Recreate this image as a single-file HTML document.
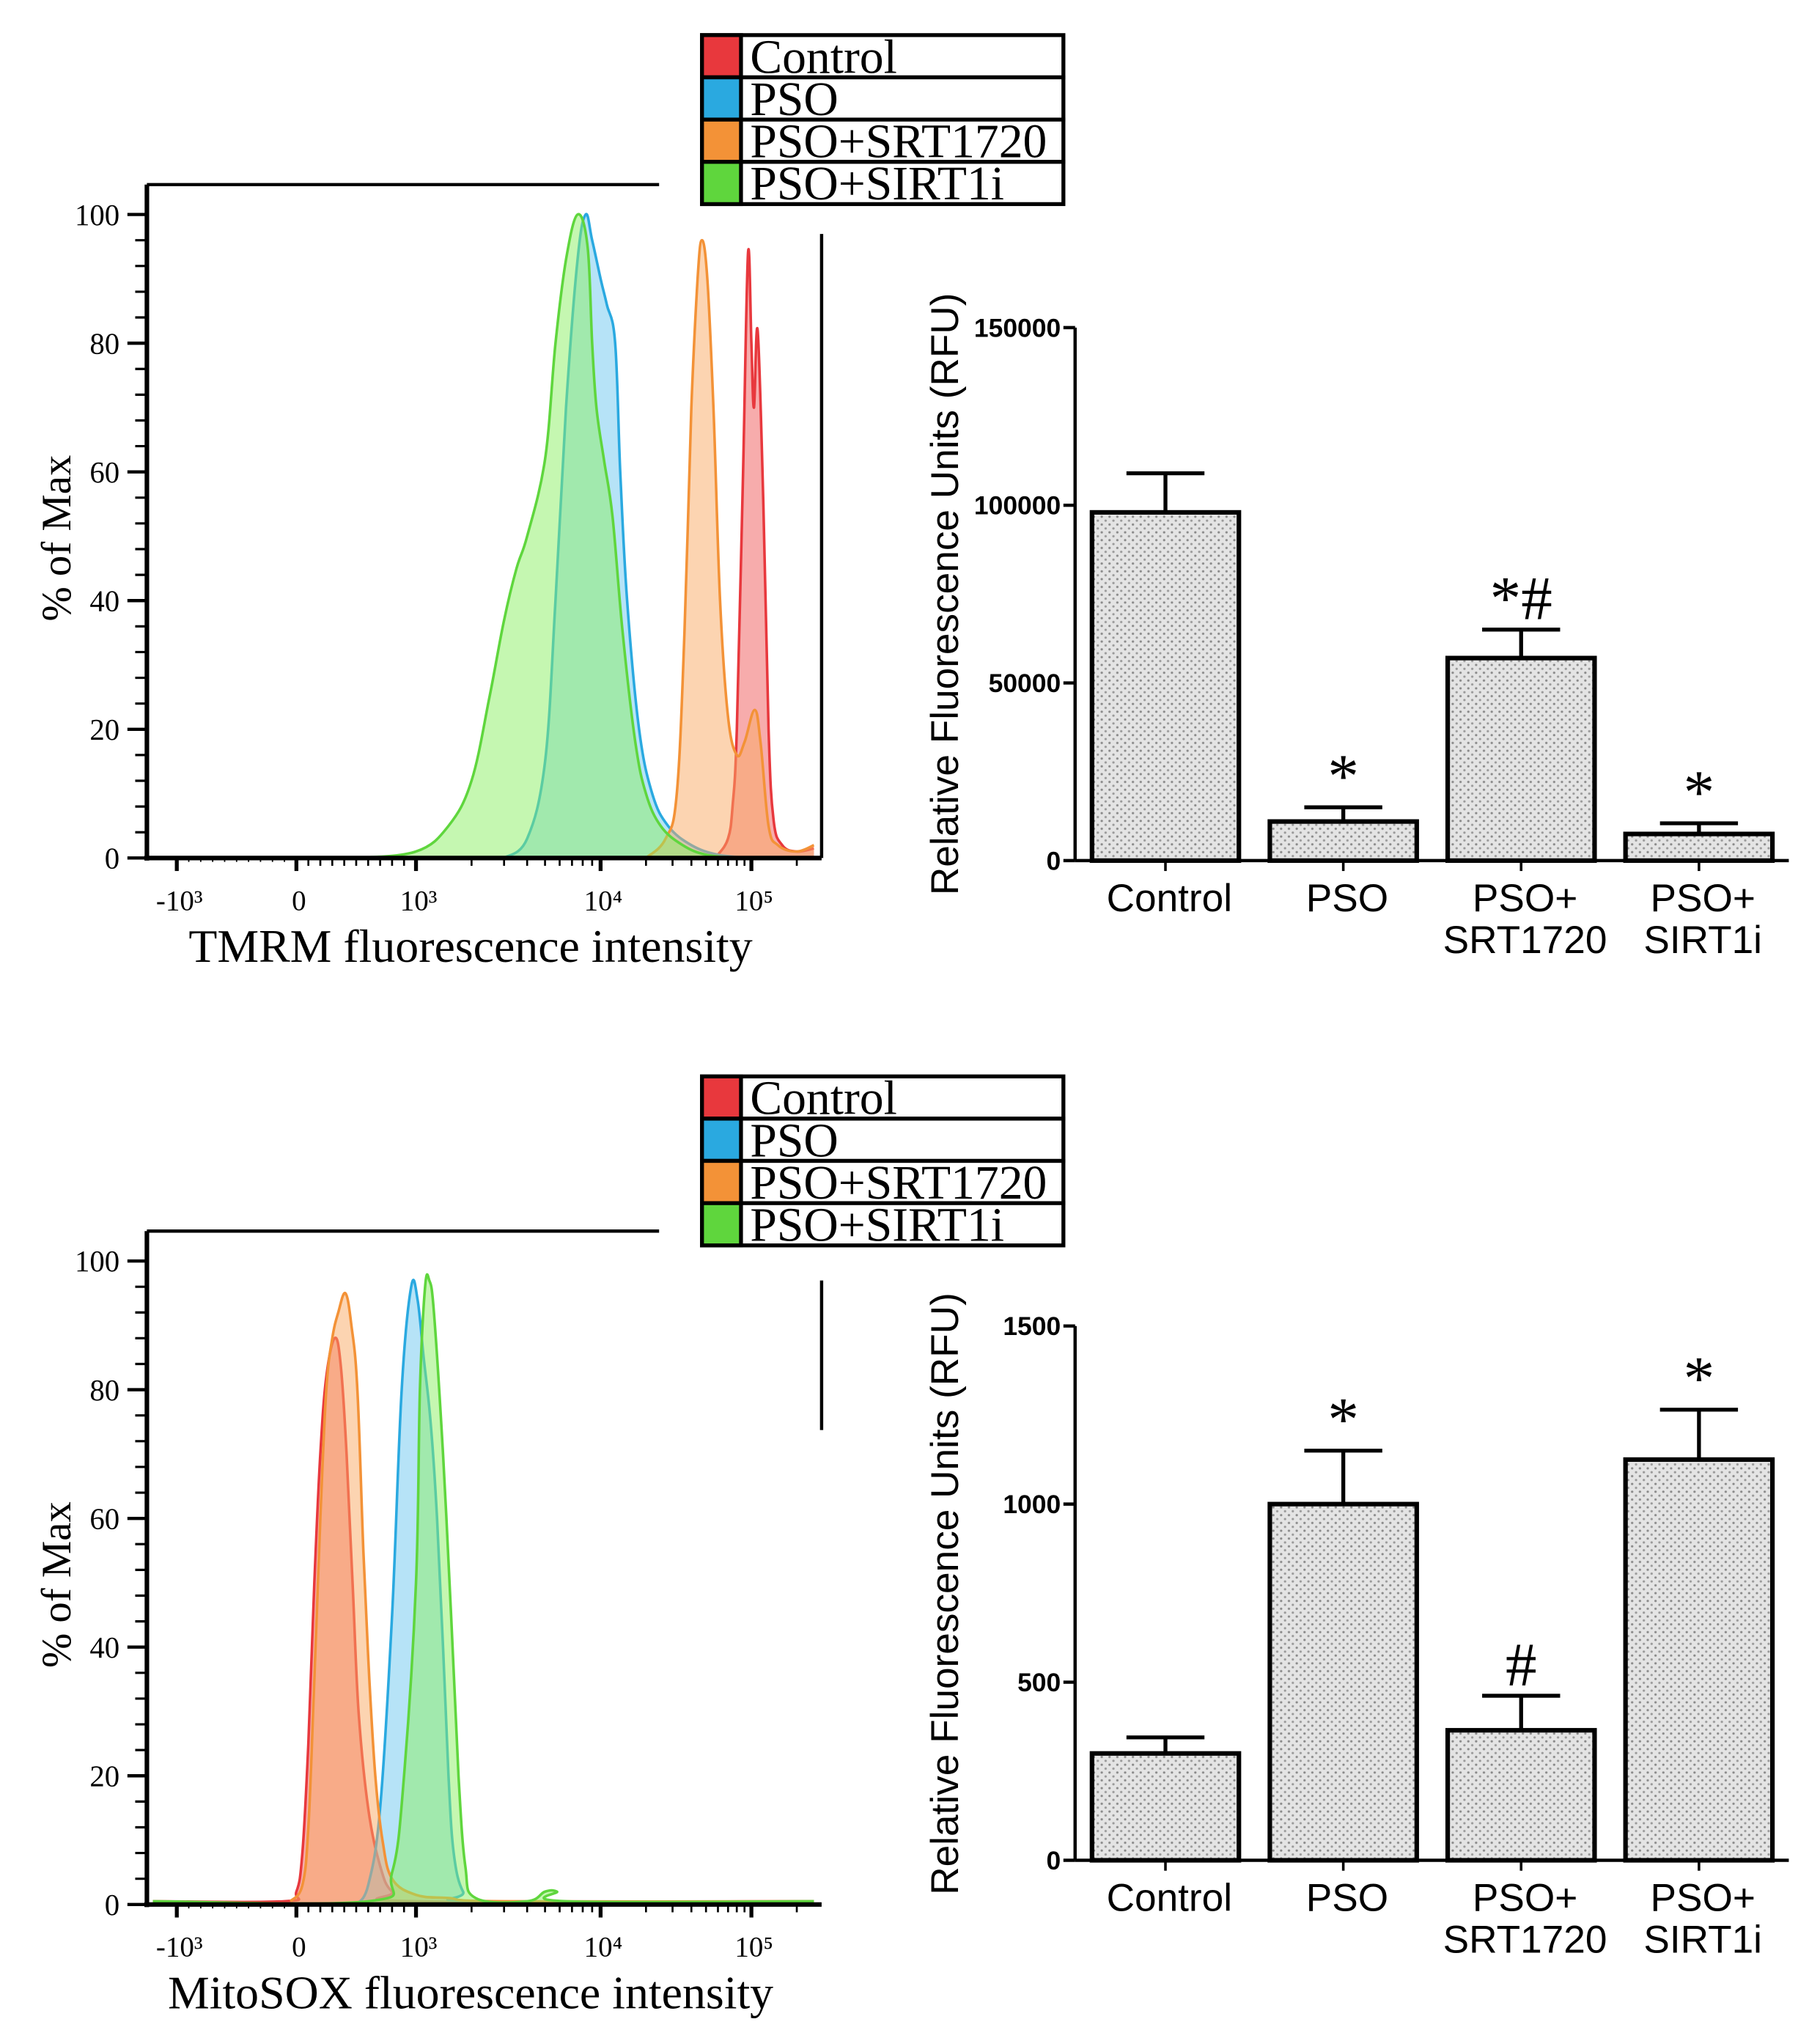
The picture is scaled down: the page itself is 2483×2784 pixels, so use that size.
<!DOCTYPE html>
<html><head><meta charset="utf-8">
<style>
html,body{margin:0;padding:0;background:#fff;}
svg{display:block;}
.serif{font-family:"Liberation Serif",serif;}
.sans{font-family:"Liberation Sans",sans-serif;}
</style></head>
<body>
<svg id="fig" width="2483" height="2784" viewBox="0 0 1400 1570" preserveAspectRatio="none" xmlns="http://www.w3.org/2000/svg">
<defs>
<pattern id="dots" width="6" height="6" patternUnits="userSpaceOnUse">
<rect width="6" height="6" fill="#e4e4e4"/>
<circle cx="1.5" cy="1.5" r="0.9" fill="#8a8a8a"/>
<circle cx="4.5" cy="4.5" r="0.9" fill="#9a9a9a"/>
</pattern>
</defs>
<g id="root"></g>
</svg>
<script>
// ---------- Data ----------
const seriesNames = ["Control","PSO","PSO+SRT1720","PSO+SIRT1i"];
const strokeColors = ["#e8383d","#2aa9e0","#f39237","#5fd63d"];
const fillColors = ["rgba(240,90,90,0.5)","rgba(110,200,240,0.5)","rgba(250,170,100,0.5)","rgba(140,240,100,0.5)"];

// TMRM histograms: [intensity, % of max]
const tmrmControl = [[60000,0.5],[70000,3],[75000,8],[80000,20],[88000,60],[95000,94],[100000,80],[104000,70],[110000,82],[120000,55],[130000,20],[140000,6],[160000,2],[200000,1],[260000,1.5]];
const tmrmPSO = [[3000,0],[4000,3],[5000,15],[5700,40],[6500,70],[7500,93],[8300,100],[9000,96],[10000,90],[11000,86],[12500,80],[13500,60],[15000,40],[18000,20],[22000,10],[28000,5],[40000,2],[60000,0.5],[100000,0]];
const tmrmSRT = [[20000,0],[27000,3],[32000,10],[36000,35],[40000,70],[44000,90],[47000,96],[51000,90],[56000,70],[62000,40],[70000,22],[80000,16],[90000,18],[105000,23],[115000,18],[130000,5],[150000,2],[200000,1],[260000,2]];
const tmrmSIRT = [[500,0],[1000,1],[1500,5],[2000,12],[2500,25],[3000,37],[3500,45],[4000,50],[5000,62],[5700,80],[6500,93],[7500,100],[8500,95],[9000,80],[9500,70],[10500,62],[12000,53],[14000,35],[17000,18],[20000,10],[25000,5],[35000,2],[50000,0.5],[80000,0]];

// MitoSOX histograms
const mitoControl = [[-1200,0.5],[-100,0.5],[0,2],[50,8],[100,25],[150,50],[200,70],[250,82],[320,88],[370,84],[420,70],[470,50],[520,30],[600,15],[700,6],[800,2],[1000,0.5],[260000,0.5]];
const mitoPSO = [[500,0],[600,3],[700,15],[800,45],[880,80],[960,96],[1020,94],[1100,85],[1200,75],[1300,60],[1400,40],[1500,20],[1600,8],[1800,2],[2200,0.5],[260000,0.5]];
const mitoSRT = [[-50,0.5],[50,3],[100,12],[150,35],[200,60],[250,80],[300,88],[350,92],[410,95],[460,90],[510,80],[560,55],[610,35],[660,20],[720,10],[800,4],[1000,1.5],[1500,1],[3000,0.5],[260000,0.5]];
const mitoSIRT = [[-1200,0.5],[600,0.5],[800,5],[900,20],[1000,50],[1050,80],[1120,96],[1180,97],[1250,92],[1400,70],[1550,45],[1700,20],[1850,6],[2100,1],[4000,0.5],[5000,2],[5800,2],[6500,0.5],[260000,0.5]];

const histXTicks = [-1000,0,1000,10000,100000];
const histXTickLabels = ["-10\u00b3","0","10\u00b3","10\u2074","10\u2075"];
const histYTicks = [0,20,40,60,80,100];

// Bar charts
const barCategories = ["Control","PSO","PSO+|SRT1720","PSO+|SIRT1i"];
const tmrmMeans = [98000,11000,57000,7500];
const tmrmErrors = [11000,4000,8000,3000];
const tmrmMarks = ["","*","*#","*"];
const tmrmYTicks = [0,50000,100000,150000];
const mitoMeans = [300,1000,365,1125];
const mitoErrors = [45,150,97,140];
const mitoMarks = ["","*","#","*"];
const mitoYTicks = [0,500,1000,1500];

// ---------- Helpers ----------
const NS = "http://www.w3.org/2000/svg";
const root = document.getElementById("root");
function mk(tag, attrs, parent, text){
  const e = document.createElementNS(NS, tag);
  for (const k in attrs) e.setAttribute(k, attrs[k]);
  if (text !== undefined) e.textContent = text;
  (parent || root).appendChild(e);
  return e;
}
// biexponential-like axis: linear in [-1000,1000], log above
function xPos(v){
  if (v <= 1000) return 228 + v * 0.092;
  const l = Math.log10(v);
  if (l <= 4) return 320 + (l - 3) * 142;
  return 462 + (l - 4) * 116;
}
function smoothPath(pts){
  let d = "M" + pts[0][0].toFixed(1) + "," + pts[0][1].toFixed(1);
  for (let i = 0; i < pts.length - 1; i++) {
    const p0 = pts[Math.max(0,i-1)], p1 = pts[i], p2 = pts[i+1], p3 = pts[Math.min(pts.length-1,i+2)];
    const t = 0.18;
    const c1x = p1[0] + (p2[0]-p0[0])*t, c1y = p1[1] + (p2[1]-p0[1])*t;
    const c2x = p2[0] - (p3[0]-p1[0])*t, c2y = p2[1] - (p3[1]-p1[1])*t;
    d += " C" + c1x.toFixed(1) + "," + c1y.toFixed(1) + " " + c2x.toFixed(1) + "," + c2y.toFixed(1) + " " + p2[0].toFixed(1) + "," + p2[1].toFixed(1);
  }
  return d;
}

function histogram(top, datasets, title, legendTop, name){
  const g = mk("g", {});
  
  
  const y0 = top + 518, y100 = top + 23;
  const yPos = p => y0 - (p / 100) * (y0 - y100);
  mk("line", {x1:113,y1:top,x2:507,y2:top,stroke:"#000","stroke-width":2.5}, g);
  mk("line", {x1:632,y1:top+38,x2:632,y2:top+(top>500?153:518),stroke:"#000","stroke-width":2.5}, g);
  datasets.forEach((d, i) => {
    const pts = d.map(p => [xPos(p[0]), yPos(p[1])]);
    const path = smoothPath(pts);
    const first = pts[0][0].toFixed(1), last = pts[pts.length-1][0].toFixed(1);
    const area = mk("path", {d: path + " L" + last + "," + y0 + " L" + first + "," + y0 + " Z", fill: fillColors[i], stroke: "none"}, g);
    
    
    const line = mk("path", {d: path, fill: "none", stroke: strokeColors[i], "stroke-width": 2}, g);
    
    
  });
  mk("line", {x1:113,y1:top,x2:113,y2:y0+2,stroke:"#000","stroke-width":3.5}, g);
  mk("line", {x1:111,y1:y0,x2:632,y2:y0,stroke:"#000","stroke-width":3.5}, g);
  for (let p = 0; p <= 100; p += 4) {
    const major = p % 20 === 0;
    mk("line", {x1: major ? 98 : 104, y1: yPos(p), x2: 113, y2: yPos(p), stroke:"#000","stroke-width": major ? 2.5 : 1.8}, g);
  }
  histYTicks.forEach(t => {
    const tx = mk("text", {x:92,y:yPos(t)+8,"text-anchor":"end","font-size":23,class:"serif"}, g, String(t));
    
    
  });
  histXTicks.forEach((t, i) => {
    mk("line", {x1:xPos(t),y1:y0,x2:xPos(t),y2:y0+10,stroke:"#000","stroke-width":3}, g);
    const tx = mk("text", {x:xPos(t)+2,y:y0+40,"text-anchor":"middle","font-size":22,class:"serif"}, g, histXTickLabels[i]);
    
    
  });
  for (let v = 100; v < 1000; v += 100) mk("line", {x1:xPos(v),y1:y0,x2:xPos(v),y2:y0+6,stroke:"#000","stroke-width":1.5}, g);
  for (let v = -900; v < 0; v += 100) mk("line", {x1:xPos(v),y1:y0,x2:xPos(v),y2:y0+3,stroke:"#000","stroke-width":1}, g);
  [1000,10000,100000].forEach(b => { for (let k = 2; k <= 9; k++) { if (b*k < 260000) mk("line", {x1:xPos(b*k),y1:y0,x2:xPos(b*k),y2:y0+6,stroke:"#000","stroke-width":1.5}, g);} });
  const xt = mk("text", {x:362,y:y0+80,"text-anchor":"middle","font-size":36,class:"serif"}, g, title);
  
  
  const yt = mk("text", {x:0,y:0,"text-anchor":"middle","font-size":32,class:"serif",transform:"translate(54," + (top+272) + ") rotate(-90)"}, g, "% of Max");
  
  
  const lg = mk("g", {}, g);
  
  
  seriesNames.forEach((n, i) => {
    const ry = legendTop + i * 32.5;
    mk("rect", {x:540,y:ry,width:278,height:32.5,fill:"#fff",stroke:"#000","stroke-width":3}, lg);
    const sw = mk("rect", {x:540,y:ry,width:30,height:32.5,fill:strokeColors[i],stroke:"#000","stroke-width":3}, lg);
    
    
    const t = mk("text", {x:577,y:ry+29,"font-size":37,class:"serif"}, lg, n);
    
    
  });
}

function barChart(y0, yTop, maxV, means, errs, marks, yticks, titleY, name){
  const g = mk("g", {});
  
  
  const yPos = v => y0 - (v / maxV) * (y0 - yTop);
  const left = 840, slot = 136.8, bw = 113;
  means.forEach((m, i) => {
    const x = left + i * slot, cx = x + bw/2;
    const e = yPos(m + errs[i]);
    mk("line", {x1:cx,y1:yPos(m),x2:cx,y2:e,stroke:"#000","stroke-width":3}, g);
    mk("line", {x1:cx-30,y1:e,x2:cx+30,y2:e,stroke:"#000","stroke-width":3}, g);
    const b = mk("rect", {x:x,y:yPos(m),width:bw,height:y0-yPos(m),fill:"url(#dots)",stroke:"#000","stroke-width":3.5}, g);
    
    
    if (marks[i]) {
      const s = mk("text", {x:cx,y:e-8,"text-anchor":"middle","font-size":48,class:"serif"}, g, marks[i]);
      
      
    }
    mk("line", {x1:cx,y1:y0,x2:cx,y2:y0+8,stroke:"#000","stroke-width":2}, g);
    barCategories[i].split("|").forEach((ln, k) => {
      const t = mk("text", {x:cx+3,y:y0+39+k*32,"text-anchor":"middle","font-size":30,class:"sans"}, g, ln);
      
      
    });
  });
  mk("line", {x1:827,y1:yTop,x2:827,y2:y0,stroke:"#000","stroke-width":2.5}, g);
  mk("line", {x1:827,y1:y0,x2:1376,y2:y0,stroke:"#000","stroke-width":2.5}, g);
  yticks.forEach(t => {
    mk("line", {x1:818,y1:yPos(t),x2:827,y2:yPos(t),stroke:"#000","stroke-width":2.5}, g);
    const tx = mk("text", {x:816,y:yPos(t)+7,"text-anchor":"end","font-size":20,"font-weight":"bold",class:"sans"}, g, String(t));
    
    
  });
  const yt = mk("text", {x:0,y:0,"text-anchor":"middle","font-size":30,class:"sans",transform:"translate(737," + titleY + ") rotate(-90)"}, g, "Relative Fluorescence Units (RFU)");
  
  
}

histogram(142, [tmrmControl, tmrmPSO, tmrmSRT, tmrmSIRT], "TMRM fluorescence intensity", 27, "tmrm-histogram");
histogram(947, [mitoControl, mitoPSO, mitoSRT, mitoSIRT], "MitoSOX fluorescence intensity", 828, "mitosox-histogram");
barChart(662, 252, 150000, tmrmMeans, tmrmErrors, tmrmMarks, tmrmYTicks, 457, "tmrm-bar-chart");
barChart(1431, 1020, 1500, mitoMeans, mitoErrors, mitoMarks, mitoYTicks, 1226, "mitosox-bar-chart");
</script>
</body></html>
